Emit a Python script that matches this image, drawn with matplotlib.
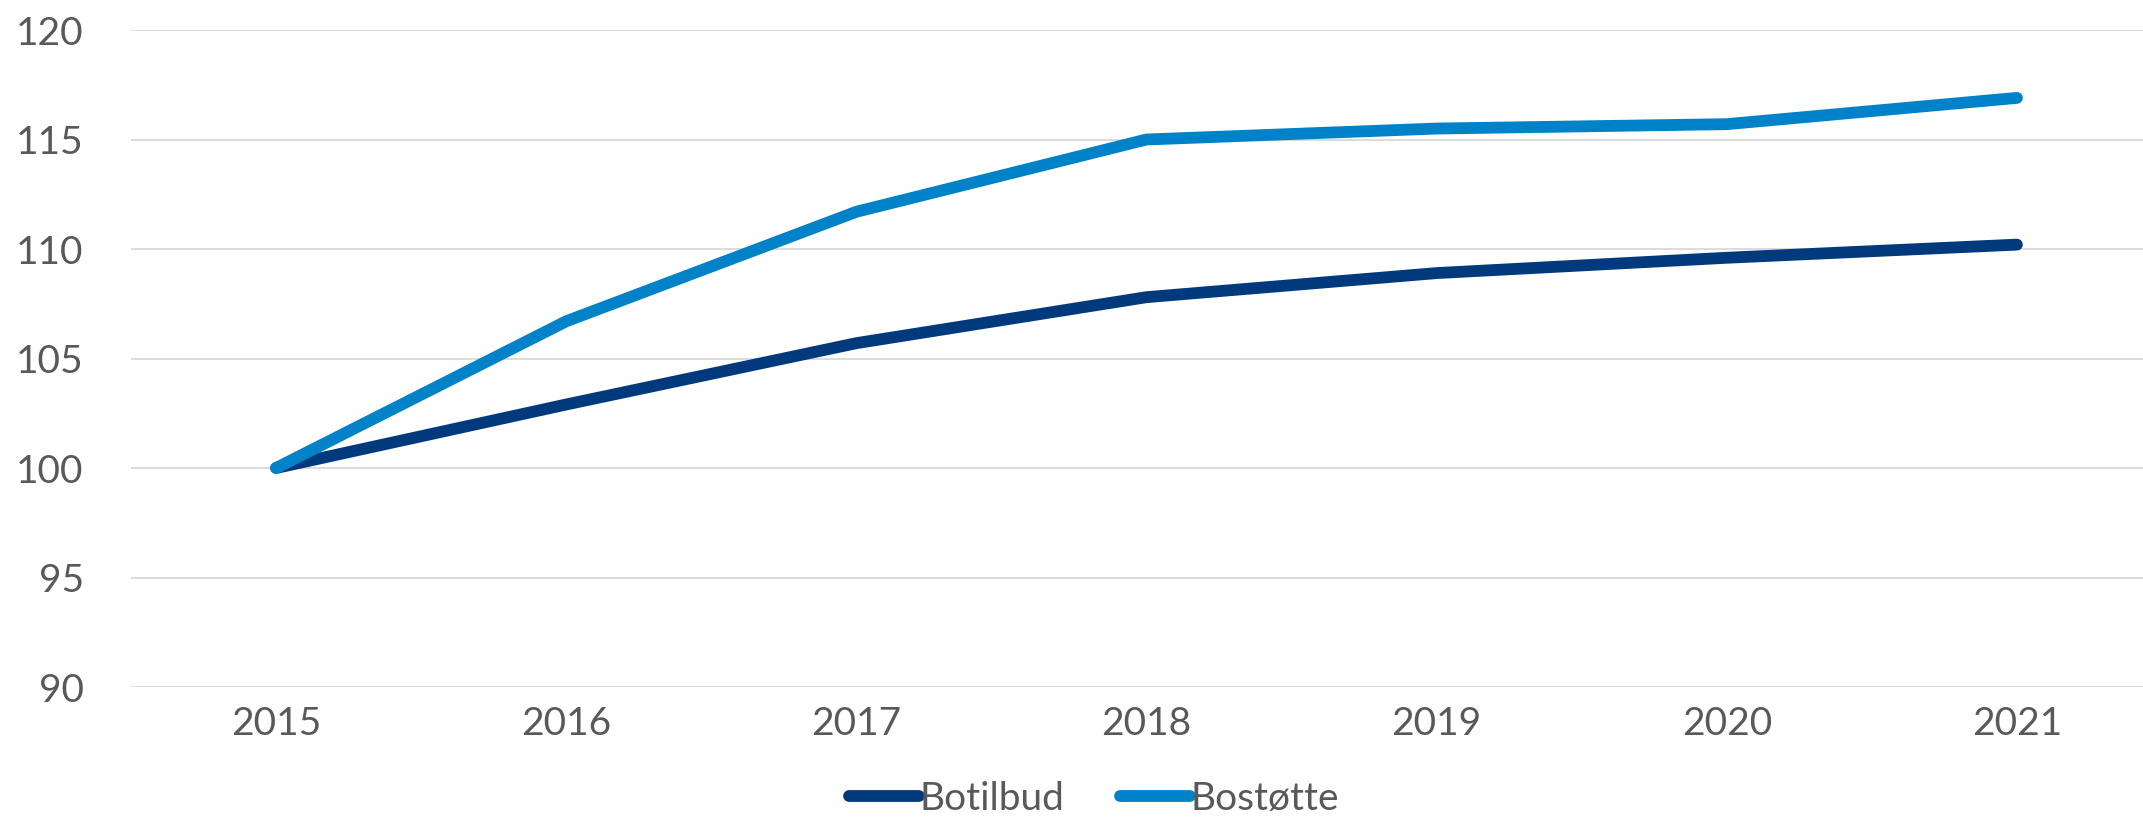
import numpy as np
import matplotlib.pyplot as plt

plt.rcParams['font.family'] = ['Lato', 'DejaVu Sans']

years = ['2015', '2016', '2017', '2018', '2019', '2020', '2021']
botilbud = [100, 102.9, 105.7, 107.8, 108.9, 109.6, 110.2]
bostotte = [100, 106.7, 111.7, 115.0, 115.5, 115.7, 116.9]

txt = '#595959'
fig = plt.figure(figsize=(21.43, 8.21), dpi=100)
ax = fig.add_axes([131/2143, 134/821, (2162-131)/2143, (791-134)/821])

x = np.arange(len(years))
ax.plot(x, botilbud, color='#003A7D', lw=8.5, solid_capstyle='round', solid_joinstyle='round', label='Botilbud')
ax.plot(x, bostotte, color='#0082C8', lw=8.5, solid_capstyle='round', solid_joinstyle='round', label='Bostøtte')

ax.set_xlim(-0.5, 6.5)
ax.set_ylim(90, 120)
ax.set_yticks(range(90, 121, 5))
ax.set_xticks(x)
ax.set_xticklabels(years)
ax.grid(axis='y', color='#d9d9d9', lw=1.3)
ax.set_axisbelow(True)
for s in ax.spines.values():
    s.set_visible(False)
ax.tick_params(length=0, labelsize=28, colors=txt, pad=14)
ax.tick_params(axis='y', pad=34)

fig.legend(loc='center', bbox_to_anchor=(1094/2143, 1 - 799/821), ncol=2, frameon=False,
           fontsize=28, labelcolor=txt, handlelength=1.8, handletextpad=0.0, columnspacing=1.45)

fig.savefig('out.png', dpi=100)
